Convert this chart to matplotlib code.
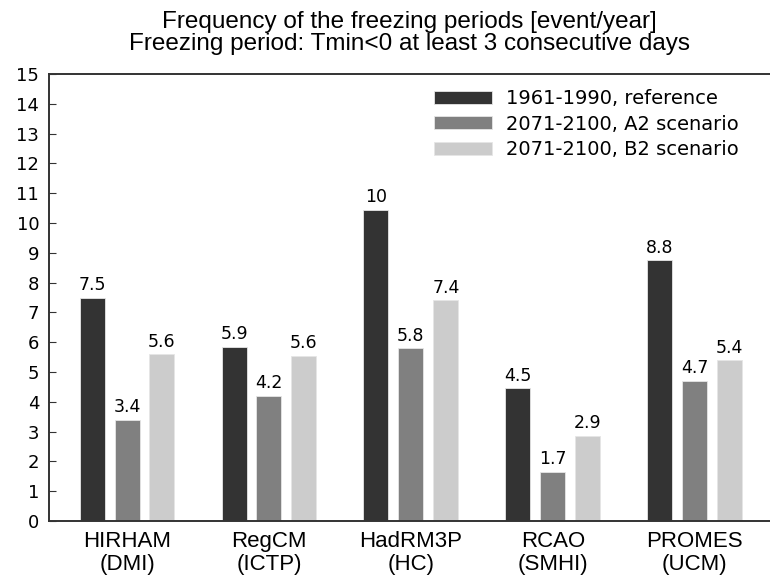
import matplotlib
matplotlib.use('Agg')
import matplotlib.pyplot as plt
import numpy as np

models = ['HIRHAM\n(DMI)', 'RegCM\n(ICTP)', 'HadRM3P\n(HC)', 'RCAO\n(SMHI)', 'PROMES\n(UCM)']
series = ['1961-1990, reference', '2071-2100, A2 scenario', '2071-2100, B2 scenario']

ref_vals = [7.5, 5.85, 10.45, 4.45, 8.75]
a2_vals = [3.4, 4.2, 5.8, 1.65, 4.7]
b2_vals = [5.6, 5.55, 7.4, 2.85, 5.4]

ref_labels = ['7.5', '5.9', '10', '4.5', '8.8']
a2_labels = ['3.4', '4.2', '5.8', '1.7', '4.7']
b2_labels = ['5.6', '5.6', '7.4', '2.9', '5.4']

colors = ['#333333', '#808080', '#cccccc']

plt.rcParams['font.family'] = ['Liberation Sans', 'DejaVu Sans']
wide = ['DejaVu Sans']

fig = plt.figure(figsize=(7.7, 5.76), dpi=100)
ax = fig.add_axes([0.0636, 0.0955, 0.9364, 0.776])

x = np.arange(len(models))
width = 0.176
step = 0.246

all_vals = [ref_vals, a2_vals, b2_vals]
all_labels = [ref_labels, a2_labels, b2_labels]
for i in range(3):
    pos = x + (i - 1) * step
    ax.bar(pos, all_vals[i], width=width, color=colors[i], label=series[i],
           edgecolor='#e6e6e6', linewidth=0.6)
    for p, v, t in zip(pos, all_vals[i], all_labels[i]):
        ax.text(p, v + 0.12, t, ha='center', va='bottom', fontsize=12.5, family=wide)

ax.set_xlim(-0.55, 4.53)
ax.set_ylim(0, 15)
ax.set_yticks(range(0, 16))
ax.set_xticks(x)
ax.set_xticklabels(models, fontsize=16, linespacing=1.15)
ax.tick_params(axis='x', length=0, pad=7)
ax.tick_params(axis='y', direction='in', length=5, pad=7, color='#333333')
for lab in ax.get_yticklabels():
    lab.set_fontsize(13)
    lab.set_family(wide)

for s in ['left', 'bottom', 'top']:
    ax.spines[s].set_linewidth(1.4)
    ax.spines[s].set_color('#333333')
ax.spines['right'].set_visible(False)

ax.set_title('Frequency of the freezing periods [event/year]\nFreezing period: Tmin<0 at least 3 consecutive days',
             fontsize=17.5, pad=17, linespacing=1.05)

leg = ax.legend(loc='upper left', bbox_to_anchor=(0.534, 0.966), frameon=False,
                prop={'family': wide, 'size': 14}, borderpad=0, borderaxespad=0,
                handlelength=3.0, handleheight=0.62, handletextpad=0.72, labelspacing=0.33)

plt.savefig('out.png', dpi=100)
plt.close(fig)
